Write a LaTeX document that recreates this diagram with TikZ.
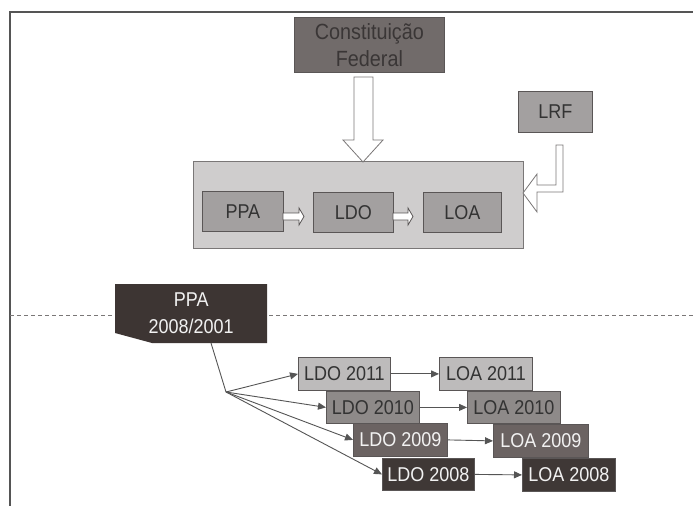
\documentclass[tikz,border=0pt]{standalone}
\usepackage{fontspec}
\setmainfont{Liberation Sans}[FakeStretch=0.9]
\usetikzlibrary{arrows.meta}
\definecolor{framec}{HTML}{555555}
\definecolor{cffill}{HTML}{716B6A}
\definecolor{cftext}{HTML}{3A3636}
\definecolor{bigfill}{HTML}{CFCDCD}
\definecolor{bigdraw}{HTML}{7A7777}
\definecolor{midfill}{HTML}{A3A0A0}
\definecolor{middraw}{HTML}{5A5656}
\definecolor{darktext}{HTML}{333333}
\definecolor{ppafill}{HTML}{3D3533}
\definecolor{yAfill}{HTML}{BDBBBB}
\definecolor{yBfill}{HTML}{8E8A89}
\definecolor{yCfill}{HTML}{6B6362}
\definecolor{yDfill}{HTML}{3F3836}
\definecolor{lighttext}{HTML}{F2F2F2}
\definecolor{conn}{HTML}{555555}
\begin{document}
\begin{tikzpicture}[x=1pt,y=-1pt,
  box/.style={draw=middraw, line width=0.8pt, inner sep=0pt, anchor=north west,
    font=\fontsize{20}{27}\selectfont, align=center},
  hollow/.style={fill=white, draw=bigdraw, line width=0.8pt, line join=miter},
  arr/.style={draw=conn, line width=0.9pt, -{Triangle[length=8pt,width=7pt]}},
  plain/.style={draw=conn, line width=0.9pt}]
\useasboundingbox (0,0) rectangle (693,506);
\fill[white] (0,0) rectangle (693,506);
% frame
\draw[framec, line width=1.4pt] (693,12) -- (10,12) -- (10,506);
% dashed separator
\draw[bigdraw, line width=0.8pt, dash pattern=on 4pt off 3pt] (10,315) -- (693,315);

% top part
\node[box, fill=cffill, text=cftext, minimum width=150pt, minimum height=55pt,
  font=\fontsize{22}{27}\selectfont] (cf) at (294,17) {Constituição\\Federal};
\node[box, fill=midfill, text=darktext, minimum width=74pt, minimum height=41pt] (lrf) at (518,91) {LRF};
\node[box, fill=bigfill, draw=bigdraw, minimum width=330pt, minimum height=87pt] (big) at (193,161) {};
\node[box, fill=midfill, text=darktext, minimum width=81pt, minimum height=40pt] (ppa) at (202,191) {PPA};
\node[box, fill=midfill, text=darktext, minimum width=80pt, minimum height=40pt] (ldo) at (313,192) {LDO};
\node[box, fill=midfill, text=darktext, minimum width=78pt, minimum height=40pt] (loa) at (423,192) {LOA};

% hollow arrow from Constituicao Federal
\draw[hollow] (354,77) -- (373,77) -- (373,140) -- (383,140) -- (363,162) -- (343,140) -- (354,140) -- cycle;
% hollow L-arrow from LRF
\draw[hollow] (556,145) -- (563,145) -- (563,192) -- (537,192) -- (537,212) -- (523,193) -- (537,174) -- (537,185) -- (556,185) -- cycle;
% small hollow arrows
\draw[hollow, draw=middraw] (283,213) -- (299,213) -- (299,208) -- (304,216.5) -- (299,225) -- (299,220) -- (283,220) -- cycle;
\draw[hollow, draw=middraw] (393,213) -- (408,213) -- (408,208) -- (413,216.5) -- (408,225) -- (408,220) -- (393,220) -- cycle;

% lower part
\fill[ppafill] (115,284) -- (267,284) -- (267,343) -- (152,343) -- (115,333) -- cycle;
\node[inner sep=0pt, text=lighttext, font=\fontsize{20}{27}\selectfont, align=center,
  minimum width=152pt, minimum height=59pt, anchor=north west] (ppab) at (115,284) {PPA\\2008/2001};
\coordinate (ppaout) at (211,343);
\coordinate (hub) at (226,392);

\node[box, fill=yAfill, text=darktext, draw=middraw, minimum width=92pt, minimum height=33pt] (ldo11) at (298,357) {LDO 2011};
\node[box, fill=yAfill, text=darktext, draw=middraw, minimum width=93pt, minimum height=33pt] (loa11) at (439,357) {LOA 2011};
\node[box, fill=yBfill, text=darktext, draw=middraw, minimum width=93pt, minimum height=32pt] (ldo10) at (326,391) {LDO 2010};
\node[box, fill=yBfill, text=darktext, draw=middraw, minimum width=93pt, minimum height=32pt] (loa10) at (467,391) {LOA 2010};
\node[box, fill=yCfill, text=lighttext, draw=middraw, minimum width=94pt, minimum height=33pt] (ldo09) at (353,423) {LDO 2009};
\node[box, fill=yCfill, text=lighttext, draw=middraw, minimum width=95pt, minimum height=33pt] (loa09) at (493,424) {LOA 2009};
\node[box, fill=yDfill, text=lighttext, draw=middraw, minimum width=92pt, minimum height=32pt] (ldo08) at (382,458) {LDO 2008};
\node[box, fill=yDfill, text=lighttext, draw=middraw, minimum width=93pt, minimum height=33pt] (loa08) at (522,458) {LOA 2008};

\draw[plain] (ppaout) -- (hub);
\draw[arr] (hub) -- (ldo11.west);
\draw[arr] (hub) -- (ldo10.west);
\draw[arr] (hub) -- (ldo09.west);
\draw[arr] (hub) -- (ldo08.west);
\draw[arr] (ldo11.east) -- (loa11.west);
\draw[arr] (ldo10.east) -- (loa10.west);
\draw[arr] (ldo09.east) -- (loa09.west);
\draw[arr] (ldo08.east) -- (loa08.west);
\end{tikzpicture}
\end{document}
